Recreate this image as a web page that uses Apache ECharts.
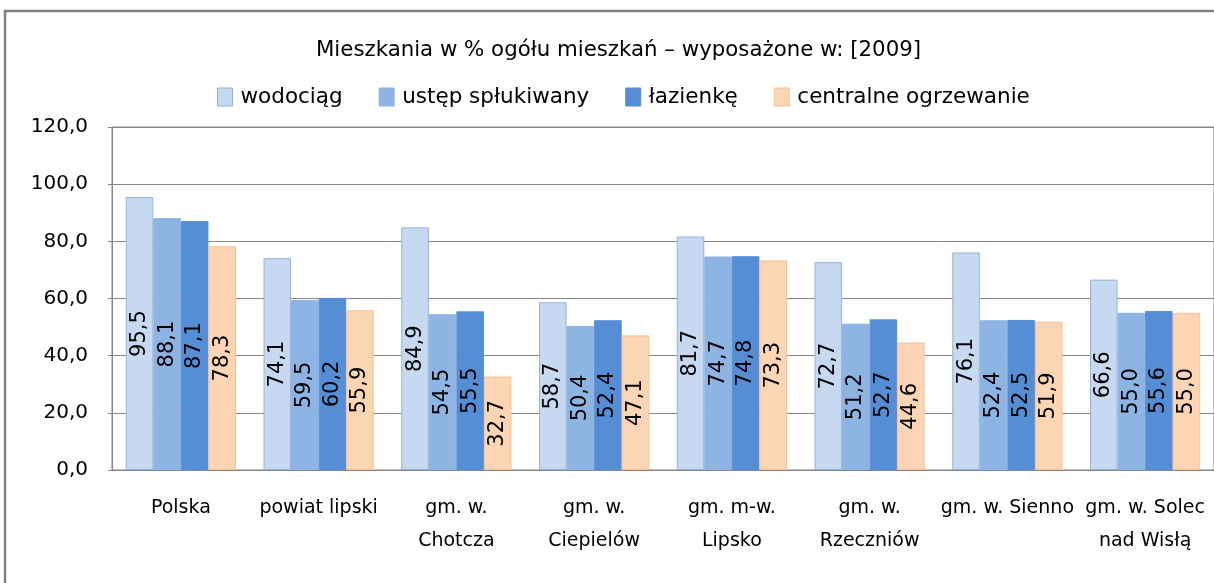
<!DOCTYPE html>
<html>
<head>
<meta charset="UTF-8">
<script src="https://cdn.jsdelivr.net/npm/echarts@6/dist/echarts.min.js"></script>
<style>
  html, body { margin: 0; padding: 0; background: #fff; }
  #main { width: 1214px; height: 583px; }
</style>
</head>
<body>
<div id="main"></div>
<script>
// kategorie (gminy)
var categories = ['Polska', 'powiat lipski', 'gm. w.\nChotcza', 'gm. w.\nCiepielów', 'gm. m-w.\nLipsko', 'gm. w.\nRzeczniów', 'gm. w. Sienno', 'gm. w. Solec\nnad Wisłą'];
var seriesNames = ['wodociąg', 'ustęp spłukiwany', 'łazienkę', 'centralne ogrzewanie'];
var wodociag = [95.5, 74.1, 84.9, 58.7, 81.7, 72.7, 76.1, 66.6];
var ustep = [88.1, 59.5, 54.5, 50.4, 74.7, 51.2, 52.4, 55.0];
var lazienka = [87.1, 60.2, 55.5, 52.4, 74.8, 52.7, 52.5, 55.6];
var ogrzewanie = [78.3, 55.9, 32.7, 47.1, 73.3, 44.6, 51.9, 55.0];
var yTicks = [0, 20, 40, 60, 80, 100, 120];

var fills = ['#C6D9F1', '#8DB4E2', '#558ED5', '#FCD5B5'];
var borders = ['#95B3D7', '#8DB4E2', '#558ED5', '#FAC090'];

function fmt(v) { return v.toFixed(1).replace('.', ','); }

var chart = echarts.init(document.getElementById('main'));
var allData = [wodociag, ustep, lazienka, ogrzewanie];

var series = allData.map(function (d, i) {
    return {
        name: seriesNames[i],
        type: 'bar',
        data: d,
        barGap: '0%',
        barCategoryGap: '20%',
        itemStyle: { color: fills[i], borderColor: borders[i], borderWidth: 1 },
        label: {
            show: true,
            position: 'inside',
            rotate: 90,
            color: '#000',
            fontFamily: 'DejaVu Sans',
            fontSize: 21,
            formatter: function (p) { return fmt(p.value); }
        }
    };
});

var option = {
    animation: false,
    backgroundColor: '#fff',
    title: {
        text: 'Mieszkania w % ogółu mieszkań – wyposażone w: [2009]',
        left: 311,
        top: 35,
        textStyle: { fontFamily: 'DejaVu Sans', fontSize: 21.3, fontWeight: 'normal', color: '#000' }
    },
    legend: {
        top: 81,
        left: 212,
        icon: 'rect',
        itemWidth: 15,
        itemHeight: 18,
        itemGap: 36,
        textStyle: { fontFamily: 'DejaVu Sans', fontSize: 21.5, color: '#000', padding: [0, 0, 0, 3] },
        data: seriesNames.map(function (n, i) {
            return { name: n, itemStyle: { color: fills[i], borderColor: borders[i], borderWidth: 1 } };
        })
    },
    grid: {
        left: 112, right: -6, top: 127, bottom: 113,
        show: true, borderColor: '#868686', borderWidth: 1
    },
    xAxis: {
        type: 'category',
        data: categories,
        axisLine: { lineStyle: { color: '#868686' } },
        axisTick: { show: false },
        axisLabel: {
            interval: 0,
            margin: 22,
            color: '#000',
            fontFamily: 'DejaVu Sans',
            fontSize: 19,
            lineHeight: 33
        }
    },
    yAxis: {
        type: 'value',
        min: yTicks[0],
        max: yTicks[yTicks.length - 1],
        interval: 20,
        axisLine: { show: true, lineStyle: { color: '#868686' } },
        axisTick: { show: true, length: 4, inside: false, lineStyle: { color: '#868686' } },
        splitLine: { lineStyle: { color: '#868686', width: 1 } },
        axisLabel: {
            margin: 24,
            color: '#000',
            fontFamily: 'DejaVu Sans',
            fontSize: 20,
            formatter: function (v) { return fmt(v); }
        }
    },
    graphic: [{
        type: 'rect',
        shape: { x: 5, y: 11, width: 1240, height: 620 },
        style: { fill: 'none', stroke: '#808080', lineWidth: 2.5 },
        silent: true
    }],
    series: series
};

chart.setOption(option);
</script>
</body>
</html>
